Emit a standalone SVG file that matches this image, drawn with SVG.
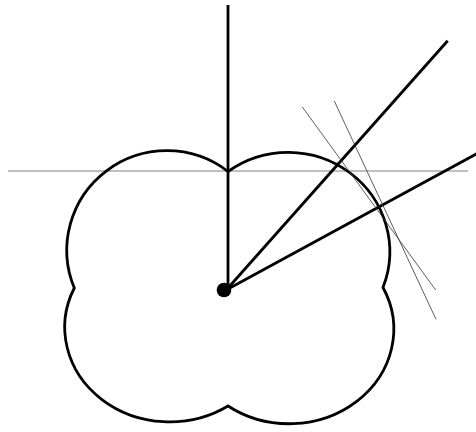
<svg xmlns="http://www.w3.org/2000/svg" width="476" height="432" viewBox="0 0 476 432">
  <style>
    .thick { stroke: #000; stroke-width: 2.8; fill: none; stroke-linecap: butt; stroke-linejoin: miter; }
    .thin { stroke: #333; stroke-width: 0.8; fill: none; }
    .axis { stroke: #808080; stroke-width: 1.1; fill: none; }
  </style>
  <rect width="476" height="432" fill="#fff"/>
  <g id="axis-line">
    <line class="axis" x1="8" y1="171" x2="468" y2="171"/>
  </g>
  <g id="curve">
    <path class="thick" d="M 228 171.5 A 101.7 99.5 0 0 1 383 287.5 A 104.7 94.5 0 0 1 228 406 A 105 94.5 0 0 1 74.3 288 A 100 99.5 0 0 1 228 171.5 Z"/>
  </g>
  <g id="connectors">
    <line class="thick" x1="228" y1="5" x2="228" y2="289"/>
    <line class="thick" x1="228" y1="288" x2="447.7" y2="40.7"/>
    <line class="thick" x1="228" y1="289" x2="478" y2="153"/>
    <line class="thin" x1="302.3" y1="107" x2="435.7" y2="290"/>
    <line class="thin" x1="334.3" y1="101" x2="436" y2="319.3"/>
  </g>
  <g id="origin">
    <circle cx="224" cy="290" r="7.3" fill="#000"/>
  </g>
</svg>
